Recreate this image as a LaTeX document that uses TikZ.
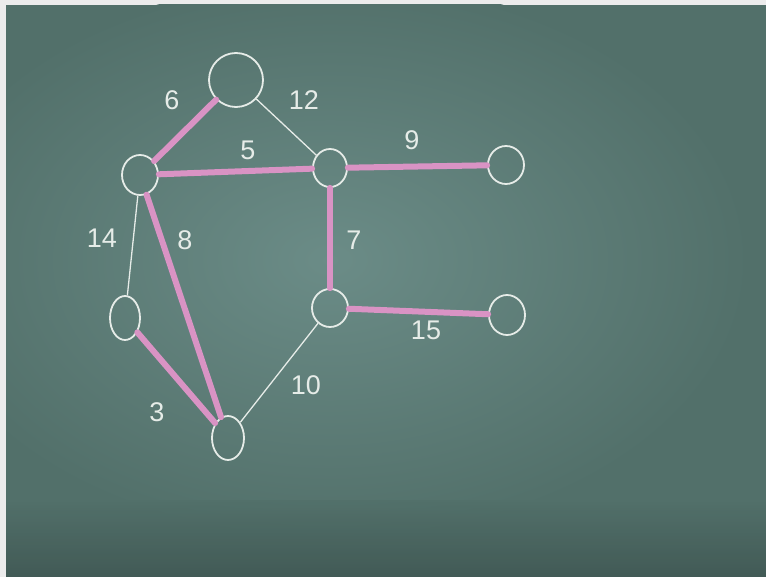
\documentclass[tikz,border=0pt]{standalone}
\usepackage{fontspec}
\setmainfont{Liberation Sans}
\usetikzlibrary{shapes.geometric}
\definecolor{board}{HTML}{52706A}
\definecolor{boardlight}{HTML}{6B8C87}
\definecolor{boarddark}{HTML}{3E5551}
\definecolor{chalk}{HTML}{E6ECE8}
\definecolor{pinkchalk}{HTML}{D993C4}
\tikzset{
  vert/.style={ellipse, draw=chalk, line width=1.8pt, inner sep=0pt},
  tree/.style={draw=pinkchalk, line width=6pt, line cap=round},
  plain/.style={draw=chalk, line width=1.3pt},
  wlabel/.style={text=chalk, font=\fontsize{27}{27}\selectfont}
}
\begin{document}
\begin{tikzpicture}[x=1pt,y=-1pt]
\useasboundingbox (0,0) rectangle (766,577);
\fill[gray!15] (0,0) rectangle (766,577);
\begin{scope}
\clip (6,5) rectangle (766,577);
\fill[board] (6,5) rectangle (766,577);
\shade[inner color=boardlight, outer color=board] (330,260) ellipse (420 and 280);
\shade[top color=board, bottom color=boarddark, opacity=0.8] (6,500) rectangle (766,577);
\end{scope}
% vertices
\node[vert, minimum width=54pt, minimum height=54pt] (A) at (236,80) {};
\node[vert, minimum width=36pt, minimum height=40pt] (B) at (140,175) {};
\node[vert, minimum width=34pt, minimum height=38pt] (C) at (330,168) {};
\node[vert, minimum width=36pt, minimum height=38pt] (D) at (506,165) {};
\node[vert, minimum width=30pt, minimum height=44pt] (E) at (125,318) {};
\node[vert, minimum width=36pt, minimum height=38pt] (F) at (330,308) {};
\node[vert, minimum width=36pt, minimum height=40pt] (G) at (507,315) {};
\node[vert, minimum width=32pt, minimum height=44pt] (H) at (228,438) {};
% edges
\draw[plain] (A) -- (C);
\draw[plain] (B) -- (E);
\draw[plain] (F) -- (H);
\draw[tree] (A) -- (B);
\draw[tree] (B) -- (C);
\draw[tree] (C) -- (D);
\draw[tree] (C) -- (F);
\draw[tree] (F) -- (G);
\draw[tree] (B) -- (H);
\draw[tree] (E) -- (H);
% labels
\node[wlabel] (l6) at (172,100) {6};
\node[wlabel] (l12) at (304,100) {12};
\node[wlabel] (l5) at (248,150) {5};
\node[wlabel] (l9) at (412,140) {9};
\node[wlabel] (l7) at (354,240) {7};
\node[wlabel] (l15) at (426,330) {15};
\node[wlabel] (l10) at (306,385) {10};
\node[wlabel] (l14) at (102,238) {14};
\node[wlabel] (l8) at (185,240) {8};
\node[wlabel] (l3) at (157,412) {3};
\end{tikzpicture}
\end{document}
